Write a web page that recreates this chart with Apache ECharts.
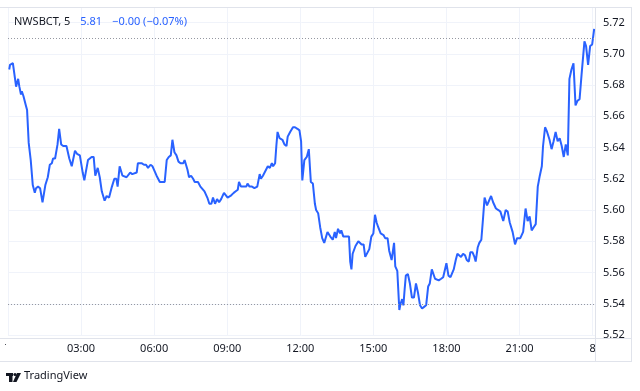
<!DOCTYPE html>
<html>
<head>
<meta charset="utf-8">
<script src="https://cdn.jsdelivr.net/npm/echarts@6/dist/echarts.min.js"></script>
<style>
html,body{margin:0;padding:0;background:#fff;}
#chart{width:640px;height:391px;}
</style>
</head>
<body>
<div id="chart"></div>
<script>
// minutes since 00:00 (day 7)
const times = [3,5,12,20,25,28,32,34,38,44,47,51,56,61,66,69,74,79,85,92,98,103,108,111,116,122,126,131,136,144,151,157,161,165,170,177,184,188,192,197,201,206,211,215,221,226,231,238,243,249,256,262,267,270,275,282,292,
301,306,317,320,329,335,340,345,351,356,366,374,381,386,391,396,401,405,410,415,420,425,432,435,442,446,451,456,460,468,474,484,491,496,501,505,510,515,520,525,532,536,541,548,556,561,566,569,574,579,
582,587,590,595,601,607,614,620,623,628,634,640,645,650,653,658,661,664,669,676,681,686,689,695,702,707,713,718,722,725,730,736,741,746,751,756,759,764,769,774,779,782,787,794,800,805,808,813,818,821,826,831,840,843,846,849,856,863,867,871,876,880,
884,890,895,900,904,908,912,918,925,929,935,939,945,951,954,959,964,967,971,974,977,980,985,990,995,1000,1005,1010,1015,1020,1025,1030,1035,1039,1044,1048,1052,1056,1061,1067,1072,1076,1080,1085,1090,1093,1098,1103,1107,1111,1116,1121,1126,1130,1135,1139,1144,1149,1152,1157,1161,1166,1170,1174,
1180,1190,1195,1202,1208,1213,1220,1226,1231,1236,1243,1249,1254,1262,1269,1275,1280,1285,1290,1295,1300,1305,1310,1315,1318,1323,1328,1334,1339,1344,1349,1354,1359,1364,1369,1374,1379,1383,1388,1393,1398,1403,1408,1413,1420,1424,1429,1434,1439,1444];
const prices = [5.690,5.693,5.694,5.679,5.684,5.679,5.674,5.676,5.673,5.667,5.664,5.643,5.632,5.616,5.611,5.614,5.615,5.614,5.605,5.616,5.621,5.629,5.630,5.633,5.633,5.642,5.652,5.642,5.641,5.641,5.633,5.628,5.627,5.638,5.636,5.635,5.624,5.619,5.620,5.632,5.633,5.634,5.634,5.622,5.627,5.621,5.612,5.606,5.609,5.608,5.615,5.620,5.620,5.615,5.628,5.622,5.621,
5.624,5.623,5.624,5.630,5.630,5.629,5.629,5.627,5.629,5.628,5.622,5.618,5.618,5.618,5.632,5.634,5.635,5.645,5.637,5.635,5.631,5.630,5.630,5.632,5.626,5.621,5.622,5.620,5.618,5.618,5.615,5.612,5.608,5.604,5.604,5.608,5.604,5.607,5.605,5.607,5.611,5.610,5.608,5.609,5.611,5.612,5.613,5.618,5.615,5.615,
5.615,5.615,5.617,5.615,5.615,5.614,5.615,5.623,5.620,5.622,5.625,5.628,5.627,5.630,5.628,5.630,5.641,5.650,5.646,5.645,5.642,5.641,5.647,5.650,5.653,5.653,5.652,5.651,5.644,5.619,5.632,5.634,5.639,5.618,5.617,5.604,5.600,5.598,5.589,5.582,5.579,5.579,5.586,5.583,5.581,5.586,5.582,5.588,5.585,5.587,5.583,5.583,5.583,5.567,5.562,5.572,5.577,5.580,5.580,5.578,5.578,5.570,
5.570,5.575,5.583,5.585,5.597,5.592,5.589,5.585,5.584,5.582,5.582,5.574,5.568,5.579,5.564,5.561,5.536,5.540,5.543,5.539,5.549,5.558,5.559,5.553,5.544,5.544,5.553,5.547,5.539,5.537,5.538,5.539,5.551,5.553,5.562,5.562,5.556,5.557,5.555,5.556,5.557,5.557,5.566,5.558,5.557,5.556,5.562,5.568,5.572,5.571,5.570,5.572,5.571,5.568,5.567,5.573,5.573,5.570,5.567,5.576,5.579,5.581,5.594,5.608,
5.603,5.609,5.605,5.601,5.600,5.599,5.593,5.600,5.599,5.592,5.586,5.578,5.582,5.582,5.586,5.601,5.593,5.596,5.587,5.589,5.591,5.615,5.622,5.628,5.641,5.653,5.650,5.645,5.639,5.644,5.650,5.644,5.646,5.641,5.634,5.642,5.635,5.684,5.690,5.694,5.667,5.670,5.671,5.687,5.708,5.705,5.693,5.705,5.706,5.716];
const yTicks = [5.52,5.54,5.56,5.58,5.60,5.62,5.64,5.66,5.68,5.70,5.72];
const xTickMinutes = [0,180,360,540,720,900,1080,1260,1440];
const xTickLabels = ['7','03:00','06:00','09:00','12:00','15:00','18:00','21:00','8'];
const refLines = [5.708, 5.536];
const header = {symbol: 'NWSBCT, 5', last: '5.81', change: '\u22120.00 (\u22120.07%)'};

const chart = echarts.init(document.getElementById('chart'), null, {renderer: 'canvas'});
const FONT = '"Noto Sans", sans-serif';
const TXT = '#131722';
const GRID = '#f0f3fa';
const BORDER = '#e0e3eb';

const seriesData = times.map((t, i) => [t, prices[i]]);

chart.setOption({
  animation: false,
  backgroundColor: '#ffffff',
  title: {
    left: 14, top: 13, padding: 0,
    text: '{a|' + header.symbol + '}  {b|' + header.last + '}  {b|' + header.change + '}',
    textStyle: {
      fontWeight: 'normal',
      rich: {
        a: {fontFamily: FONT, fontSize: 11, color: TXT, fontWeight: 'normal'},
        b: {fontFamily: FONT, fontSize: 11, color: '#2962ff', fontWeight: 'normal'}
      }
    }
  },
  grid: {left: 8, right: 45, top: 7, bottom: 56, containLabel: false},
  xAxis: {
    type: 'value', min: 0, max: 1446, interval: 180,
    axisLine: {show: false}, axisTick: {show: false},
    splitLine: {show: true, lineStyle: {color: GRID, width: 1}},
    axisLabel: {
      margin: 8, fontFamily: FONT, fontSize: 11, color: TXT,
      showMaxLabel: false,
      formatter: function (v) {
        const idx = xTickMinutes.indexOf(Math.round(v));
        return (idx >= 0 && Math.abs(v - Math.round(v)) < 1e-6) ? xTickLabels[idx] : '';
      }
    }
  },
  yAxis: {
    type: 'value', position: 'right', min: 5.52, max: 5.73, interval: 0.02,
    axisLine: {show: false}, axisTick: {show: false},
    splitLine: {show: true, lineStyle: {color: GRID, width: 1}},
    axisLabel: {
      margin: 8, fontFamily: FONT, fontSize: 11, color: TXT, showMaxLabel: false,
      formatter: function (v) {
        for (const t of yTicks) if (Math.abs(v - t) < 1e-6) return t.toFixed(2);
        return '';
      }
    }
  },
  series: [{
    type: 'line',
    data: seriesData,
    showSymbol: false,
    symbol: 'none',
    lineStyle: {color: '#2962ff', width: 2},
    itemStyle: {color: '#2962ff'},
    z: 3,
    markLine: {
      silent: true, symbol: 'none',
      label: {show: false},
      lineStyle: {color: '#9598a1', type: [1, 2], width: 1},
      data: refLines.map(v => ({yAxis: v}))
    }
  }],
  graphic: [
    // frame lines
    {type: 'line', shape: {x1: 0, y1: 7.5, x2: 632, y2: 7.5}, style: {stroke: BORDER, lineWidth: 1}, z: 10},
    {type: 'line', shape: {x1: 0, y1: 338.5, x2: 632, y2: 338.5}, style: {stroke: BORDER, lineWidth: 1}, z: 10},
    {type: 'line', shape: {x1: 0, y1: 361.5, x2: 632, y2: 361.5}, style: {stroke: BORDER, lineWidth: 1}, z: 10},
    {type: 'line', shape: {x1: 595.5, y1: 7, x2: 595.5, y2: 362}, style: {stroke: BORDER, lineWidth: 1}, z: 10},
    {type: 'line', shape: {x1: 631.5, y1: 7, x2: 631.5, y2: 362}, style: {stroke: BORDER, lineWidth: 1}, z: 10},
    // clip bottom of lowest price label
    {type: 'rect', shape: {x: 596, y: 339, width: 35, height: 22}, style: {fill: '#fff'}, z: 9},
    // clip the day label at left edge
    {type: 'rect', shape: {x: 6, y: 339, width: 10, height: 22}, style: {fill: '#fff'}, z: 9},
    // TradingView logo
    {type: 'rect', shape: {x: 6, y: 373, width: 7, height: 3}, style: {fill: TXT}, z: 10},
    {type: 'rect', shape: {x: 9, y: 373, width: 3.5, height: 9}, style: {fill: TXT}, z: 10},
    {type: 'circle', shape: {cx: 15, cy: 374.5, r: 1.6}, style: {fill: TXT}, z: 10},
    {type: 'polygon', shape: {points: [[17, 373], [21, 373], [16.5, 382], [13, 382]]}, style: {fill: TXT}, z: 10},
    {type: 'text', left: 24, top: 370, style: {text: 'TradingView', fill: TXT, font: '11px "Noto Sans", sans-serif'}, z: 10}
  ]
});
</script>
</body>
</html>
